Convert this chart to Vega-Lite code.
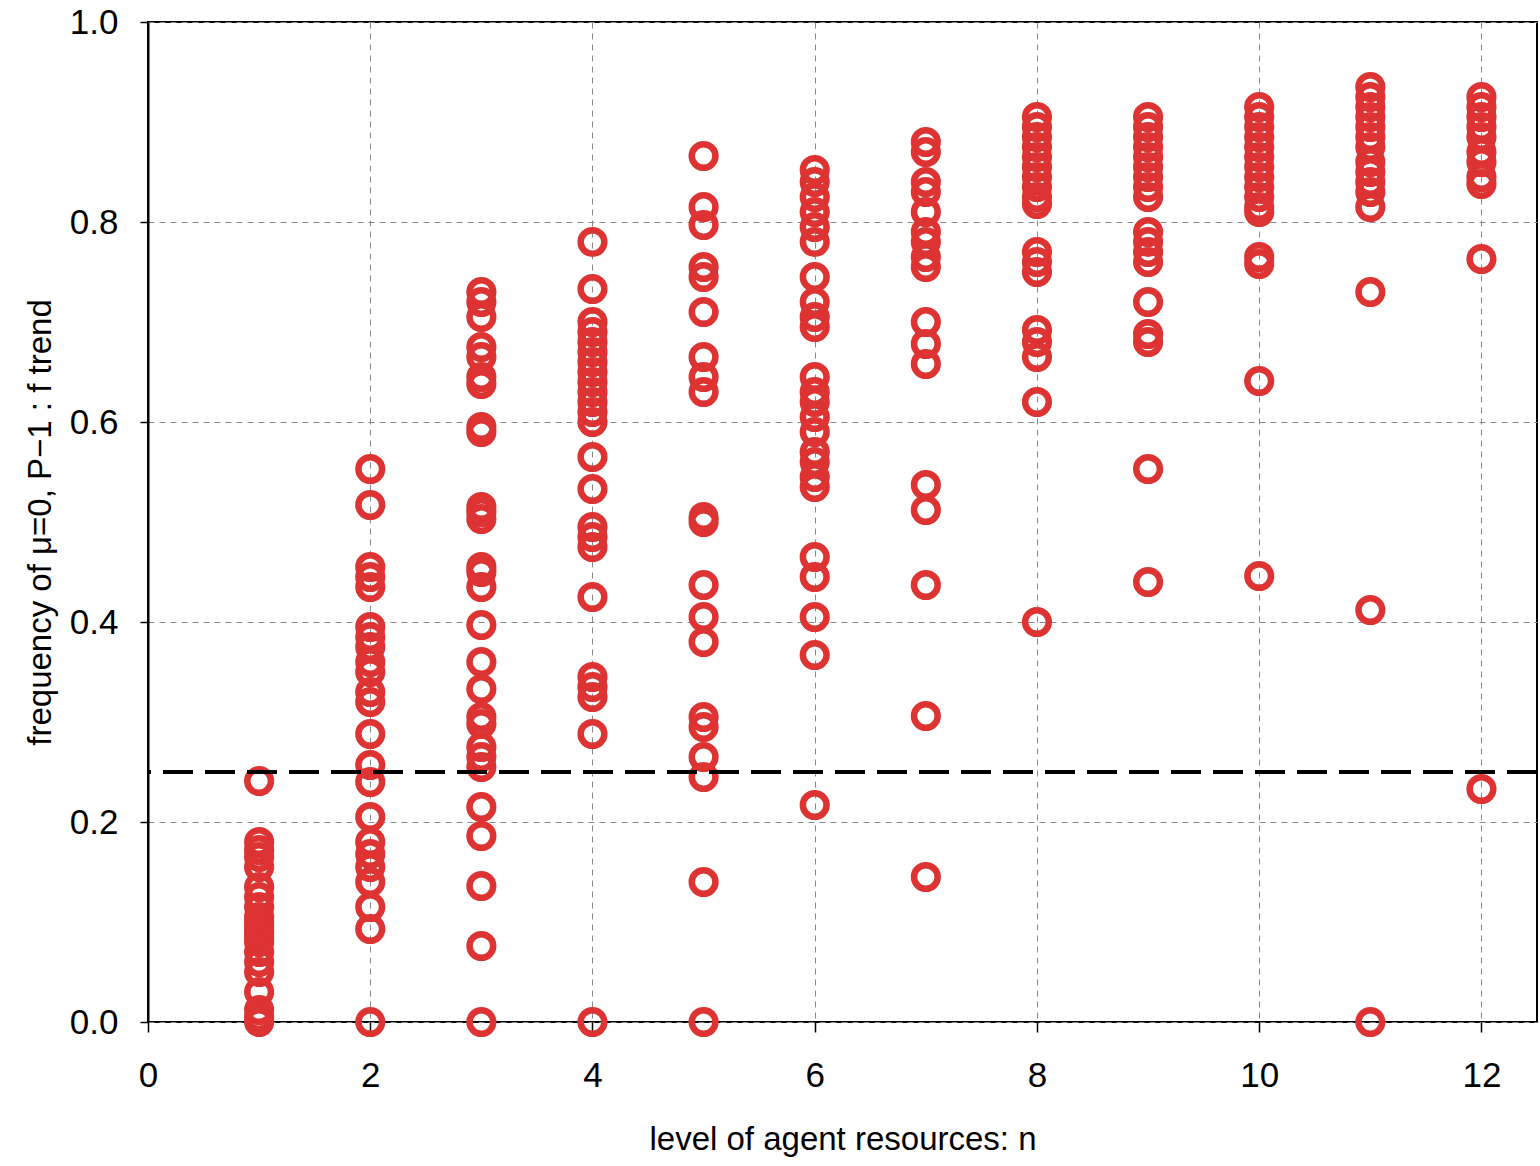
{
  "$schema": "https://vega.github.io/schema/vega-lite/v6.json",
  "width": 1389,
  "height": 1000,
  "autosize": {"type": "none"},
  "padding": {"left": 148, "top": 22, "right": 3, "bottom": 144},
  "background": "white",
  "config": {
    "view": {"stroke": "black", "strokeWidth": 2},
    "font": "Liberation Sans",
    "axis": {
      "labelFont": "Liberation Sans",
      "titleFont": "Liberation Sans",
      "labelFontSize": 35,
      "titleFontSize": 33,
      "titleFontWeight": "normal",
      "labelColor": "black",
      "titleColor": "black",
      "labelFlush": false,
      "gridColor": "#888888",
      "gridDash": [6, 5],
      "gridWidth": 1,
      "gridOpacity": 1,
      "tickColor": "black",
      "tickWidth": 1.5,
      "domainColor": "black",
      "domainWidth": 2
    }
  },
  "data": {
    "values": [
      {"n":1,"f":0.241},{"n":1,"f":0.18},{"n":1,"f":0.172},{"n":1,"f":0.165},{"n":1,"f":0.155},{"n":1,"f":0.135},{"n":1,"f":0.125},{"n":1,"f":0.115},{"n":1,"f":0.105},{"n":1,"f":0.1},{"n":1,"f":0.095},{"n":1,"f":0.09},{"n":1,"f":0.085},{"n":1,"f":0.08},{"n":1,"f":0.07},{"n":1,"f":0.06},{"n":1,"f":0.05},{"n":1,"f":0.03},{"n":1,"f":0.012},{"n":1,"f":0.005},{"n":1,"f":0.0},
      {"n":2,"f":0.553},{"n":2,"f":0.517},{"n":2,"f":0.455},{"n":2,"f":0.445},{"n":2,"f":0.435},{"n":2,"f":0.395},{"n":2,"f":0.385},{"n":2,"f":0.375},{"n":2,"f":0.36},{"n":2,"f":0.35},{"n":2,"f":0.33},{"n":2,"f":0.32},{"n":2,"f":0.288},{"n":2,"f":0.257},{"n":2,"f":0.24},{"n":2,"f":0.205},{"n":2,"f":0.18},{"n":2,"f":0.168},{"n":2,"f":0.155},{"n":2,"f":0.14},{"n":2,"f":0.115},{"n":2,"f":0.093},{"n":2,"f":0.0},
      {"n":3,"f":0.73},{"n":3,"f":0.72},{"n":3,"f":0.705},{"n":3,"f":0.675},{"n":3,"f":0.665},{"n":3,"f":0.645},{"n":3,"f":0.638},{"n":3,"f":0.595},{"n":3,"f":0.59},{"n":3,"f":0.515},{"n":3,"f":0.51},{"n":3,"f":0.503},{"n":3,"f":0.455},{"n":3,"f":0.45},{"n":3,"f":0.435},{"n":3,"f":0.397},{"n":3,"f":0.36},{"n":3,"f":0.333},{"n":3,"f":0.305},{"n":3,"f":0.298},{"n":3,"f":0.275},{"n":3,"f":0.265},{"n":3,"f":0.255},{"n":3,"f":0.215},{"n":3,"f":0.186},{"n":3,"f":0.136},{"n":3,"f":0.076},{"n":3,"f":0.0},
      {"n":4,"f":0.78},{"n":4,"f":0.733},{"n":4,"f":0.7},{"n":4,"f":0.69},{"n":4,"f":0.68},{"n":4,"f":0.67},{"n":4,"f":0.66},{"n":4,"f":0.65},{"n":4,"f":0.64},{"n":4,"f":0.63},{"n":4,"f":0.62},{"n":4,"f":0.61},{"n":4,"f":0.6},{"n":4,"f":0.565},{"n":4,"f":0.533},{"n":4,"f":0.495},{"n":4,"f":0.485},{"n":4,"f":0.475},{"n":4,"f":0.425},{"n":4,"f":0.345},{"n":4,"f":0.335},{"n":4,"f":0.325},{"n":4,"f":0.288},{"n":4,"f":0.0},
      {"n":5,"f":0.866},{"n":5,"f":0.815},{"n":5,"f":0.797},{"n":5,"f":0.755},{"n":5,"f":0.745},{"n":5,"f":0.71},{"n":5,"f":0.665},{"n":5,"f":0.645},{"n":5,"f":0.63},{"n":5,"f":0.505},{"n":5,"f":0.5},{"n":5,"f":0.437},{"n":5,"f":0.405},{"n":5,"f":0.38},{"n":5,"f":0.305},{"n":5,"f":0.295},{"n":5,"f":0.265},{"n":5,"f":0.245},{"n":5,"f":0.14},{"n":5,"f":0.0},
      {"n":6,"f":0.852},{"n":6,"f":0.84},{"n":6,"f":0.825},{"n":6,"f":0.81},{"n":6,"f":0.795},{"n":6,"f":0.78},{"n":6,"f":0.745},{"n":6,"f":0.72},{"n":6,"f":0.705},{"n":6,"f":0.695},{"n":6,"f":0.645},{"n":6,"f":0.63},{"n":6,"f":0.62},{"n":6,"f":0.605},{"n":6,"f":0.59},{"n":6,"f":0.57},{"n":6,"f":0.56},{"n":6,"f":0.545},{"n":6,"f":0.535},{"n":6,"f":0.465},{"n":6,"f":0.445},{"n":6,"f":0.405},{"n":6,"f":0.367},{"n":6,"f":0.217},
      {"n":7,"f":0.88},{"n":7,"f":0.87},{"n":7,"f":0.84},{"n":7,"f":0.83},{"n":7,"f":0.81},{"n":7,"f":0.79},{"n":7,"f":0.78},{"n":7,"f":0.765},{"n":7,"f":0.755},{"n":7,"f":0.7},{"n":7,"f":0.678},{"n":7,"f":0.658},{"n":7,"f":0.537},{"n":7,"f":0.512},{"n":7,"f":0.437},{"n":7,"f":0.306},{"n":7,"f":0.145},
      {"n":8,"f":0.905},{"n":8,"f":0.895},{"n":8,"f":0.885},{"n":8,"f":0.875},{"n":8,"f":0.865},{"n":8,"f":0.855},{"n":8,"f":0.845},{"n":8,"f":0.835},{"n":8,"f":0.825},{"n":8,"f":0.818},{"n":8,"f":0.77},{"n":8,"f":0.76},{"n":8,"f":0.75},{"n":8,"f":0.692},{"n":8,"f":0.68},{"n":8,"f":0.665},{"n":8,"f":0.62},{"n":8,"f":0.4},
      {"n":9,"f":0.905},{"n":9,"f":0.895},{"n":9,"f":0.885},{"n":9,"f":0.875},{"n":9,"f":0.865},{"n":9,"f":0.855},{"n":9,"f":0.845},{"n":9,"f":0.835},{"n":9,"f":0.825},{"n":9,"f":0.79},{"n":9,"f":0.78},{"n":9,"f":0.77},{"n":9,"f":0.76},{"n":9,"f":0.72},{"n":9,"f":0.688},{"n":9,"f":0.68},{"n":9,"f":0.553},{"n":9,"f":0.44},
      {"n":10,"f":0.915},{"n":10,"f":0.905},{"n":10,"f":0.895},{"n":10,"f":0.885},{"n":10,"f":0.875},{"n":10,"f":0.865},{"n":10,"f":0.855},{"n":10,"f":0.845},{"n":10,"f":0.835},{"n":10,"f":0.825},{"n":10,"f":0.815},{"n":10,"f":0.81},{"n":10,"f":0.765},{"n":10,"f":0.758},{"n":10,"f":0.641},{"n":10,"f":0.446},
      {"n":11,"f":0.935},{"n":11,"f":0.925},{"n":11,"f":0.915},{"n":11,"f":0.905},{"n":11,"f":0.895},{"n":11,"f":0.885},{"n":11,"f":0.875},{"n":11,"f":0.86},{"n":11,"f":0.85},{"n":11,"f":0.84},{"n":11,"f":0.83},{"n":11,"f":0.815},{"n":11,"f":0.73},{"n":11,"f":0.412},{"n":11,"f":0.0},
      {"n":12,"f":0.925},{"n":12,"f":0.915},{"n":12,"f":0.905},{"n":12,"f":0.895},{"n":12,"f":0.885},{"n":12,"f":0.87},{"n":12,"f":0.86},{"n":12,"f":0.845},{"n":12,"f":0.838},{"n":12,"f":0.763},{"n":12,"f":0.233}
    ]
  },
  "layer": [
    {
      "mark": {"type": "point", "shape": "circle", "filled": false, "color": "#dd3333", "strokeWidth": 6.5, "size": 560, "opacity": 1, "clip": false},
      "encoding": {
        "x": {
          "field": "n", "type": "quantitative",
          "scale": {"domain": [0, 12.5], "nice": false, "zero": true},
          "axis": {
            "values": [0, 2, 4, 6, 8, 10, 12],
            "title": "level of agent resources:  n",
            "grid": true,
            "domain": false,
            "tickSize": 10,
            "labelPadding": 26,
            "titlePadding": 30
          }
        },
        "y": {
          "field": "f", "type": "quantitative",
          "scale": {"domain": [0, 1], "nice": false},
          "axis": {
            "values": [0, 0.2, 0.4, 0.6, 0.8, 1.0],
            "format": ".1f",
            "title": "frequency of  μ=0, P−1 : f trend",
            "grid": true,
            "tickSize": 8,
            "labelPadding": 22,
            "titlePadding": 12
          }
        }
      }
    },
    {
      "mark": {"type": "rule", "color": "black", "strokeWidth": 4, "strokeDash": [30, 12]},
      "encoding": {"y": {"datum": 0.25}}
    }
  ]
}
